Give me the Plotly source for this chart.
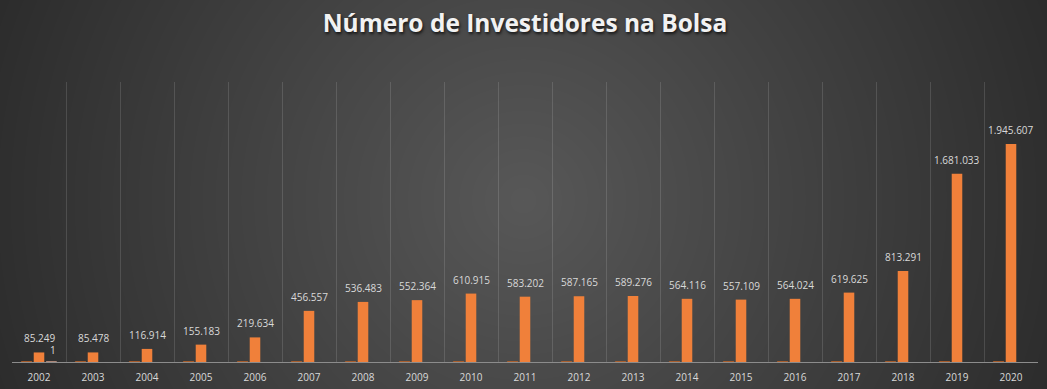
import base64, struct, zlib
import numpy as np
import plotly.graph_objects as go

# ---------------- data ----------------
anos = ["2002", "2003", "2004", "2005", "2006", "2007", "2008", "2009", "2010", "2011",
        "2012", "2013", "2014", "2015", "2016", "2017", "2018", "2019", "2020"]
serie_ano = [2002, 2003, 2004, 2005, 2006, 2007, 2008, 2009, 2010, 2011,
             2012, 2013, 2014, 2015, 2016, 2017, 2018, 2019, 2020]
investidores = [85249, 85478, 116914, 155183, 219634, 456557, 536483, 552364, 610915, 583202,
                587165, 589276, 564116, 557109, 564024, 619625, 813291, 1681033, 1945607]
serie_extra_x = ["2002"]
serie_extra = [1]

W, H = 1047, 389

# ---------------- radial gradient background as PNG ----------------
def png_data_uri(arr):
    h, w, _ = arr.shape
    raw = b"".join(b"\x00" + arr[y].tobytes() for y in range(h))
    def chunk(tag, data):
        c = struct.pack(">I", len(data)) + tag + data
        return c + struct.pack(">I", zlib.crc32(tag + data) & 0xffffffff)
    png = b"\x89PNG\r\n\x1a\n"
    png += chunk(b"IHDR", struct.pack(">IIBBBBB", w, h, 8, 2, 0, 0, 0))
    png += chunk(b"IDAT", zlib.compress(raw, 9))
    png += chunk(b"IEND", b"")
    return "data:image/png;base64," + base64.b64encode(png).decode()

yy, xx = np.mgrid[0:H, 0:W]
d = np.sqrt((xx - 523.0) ** 2 + (yy - 200.0) ** 2)
v = np.clip(0x58 - 0.078 * d, 0x2a, 0x58)
img = np.stack([v, v, v], axis=-1).astype(np.uint8)
bg = png_data_uri(img)

fmt = lambda n: f"{n:,}".replace(",", ".")

fig = go.Figure()

fig.add_trace(go.Bar(
    x=anos, y=serie_ano, name="Ano",
    marker=dict(color="#c0642a", line=dict(color="#c0642a", width=0.8)),
    hoverinfo="skip",
))
fig.add_trace(go.Bar(
    x=anos, y=investidores, name="Investidores",
    marker=dict(color="#f0803a", line=dict(width=0)),
))
fig.add_trace(go.Bar(
    x=serie_extra_x, y=serie_extra, name="extra",
    marker=dict(color="#f2b9a2", line=dict(color="#f2b9a2", width=0.8)),
))

annotations = []
for i, v_ in enumerate(investidores):
    annotations.append(dict(x=i, y=v_, xref="x", yref="y", text=fmt(v_), showarrow=False,
                            yanchor="middle", xanchor="center", yshift=14,
                            font=dict(family="Open Sans", size=10, color="#d9d9d9")))
for a, v_ in zip(serie_extra_x, serie_extra):
    annotations.append(dict(x=anos.index(a), y=v_, xref="x", yref="y", text=fmt(v_),
                            showarrow=False, yanchor="middle", xanchor="center",
                            yshift=12, xshift=14,
                            font=dict(family="Open Sans", size=10, color="#d9d9d9")))

fig.update_layout(
    width=W, height=H,
    margin=dict(l=12, r=9, t=82, b=27, autoexpand=False),
    paper_bgcolor="#2b2b2b",
    plot_bgcolor="rgba(0,0,0,0)",
    barmode="group",
    bargap=0.31,
    bargroupgap=0.15,
    showlegend=False,
    annotations=annotations,
    title=dict(
        text="<b>Número de Investidores na Bolsa</b>",
        x=0.5, xref="paper", y=1 - 23 / H, yref="container", xanchor="center", yanchor="middle",
        font=dict(family="Open Sans", size=24.5, color="#f2f2f2",
                  shadow="1px 2px 3px rgba(0,0,0,0.7)"),
    ),
    images=[dict(source=bg, xref="paper", yref="paper", x=-12/1026, y=1 + 82/280,
                 sizex=W/1026, sizey=H/280, xanchor="left", yanchor="top",
                 sizing="stretch", layer="below")],
    xaxis=dict(
        type="category", range=[-0.5, len(anos) - 0.5], autorange=False,
        tickson="boundaries", showgrid=True, tickangle=0, automargin=False,
        gridcolor="rgba(255,255,255,0.13)", gridwidth=1,
        showline=True, linecolor="#8c8c8c", linewidth=1,
        ticks="", tickfont=dict(family="Open Sans", size=10, color="#d9d9d9"),
        ticklabelstandoff=6, fixedrange=True,
    ),
    yaxis=dict(range=[0, 2500000], visible=False, showgrid=False, zeroline=False,
               fixedrange=True, automargin=False),
)

fig.write_html("out.html", config={"displayModeBar": False},
               post_script="document.body.style.margin='0';document.body.style.overflow='hidden';")
